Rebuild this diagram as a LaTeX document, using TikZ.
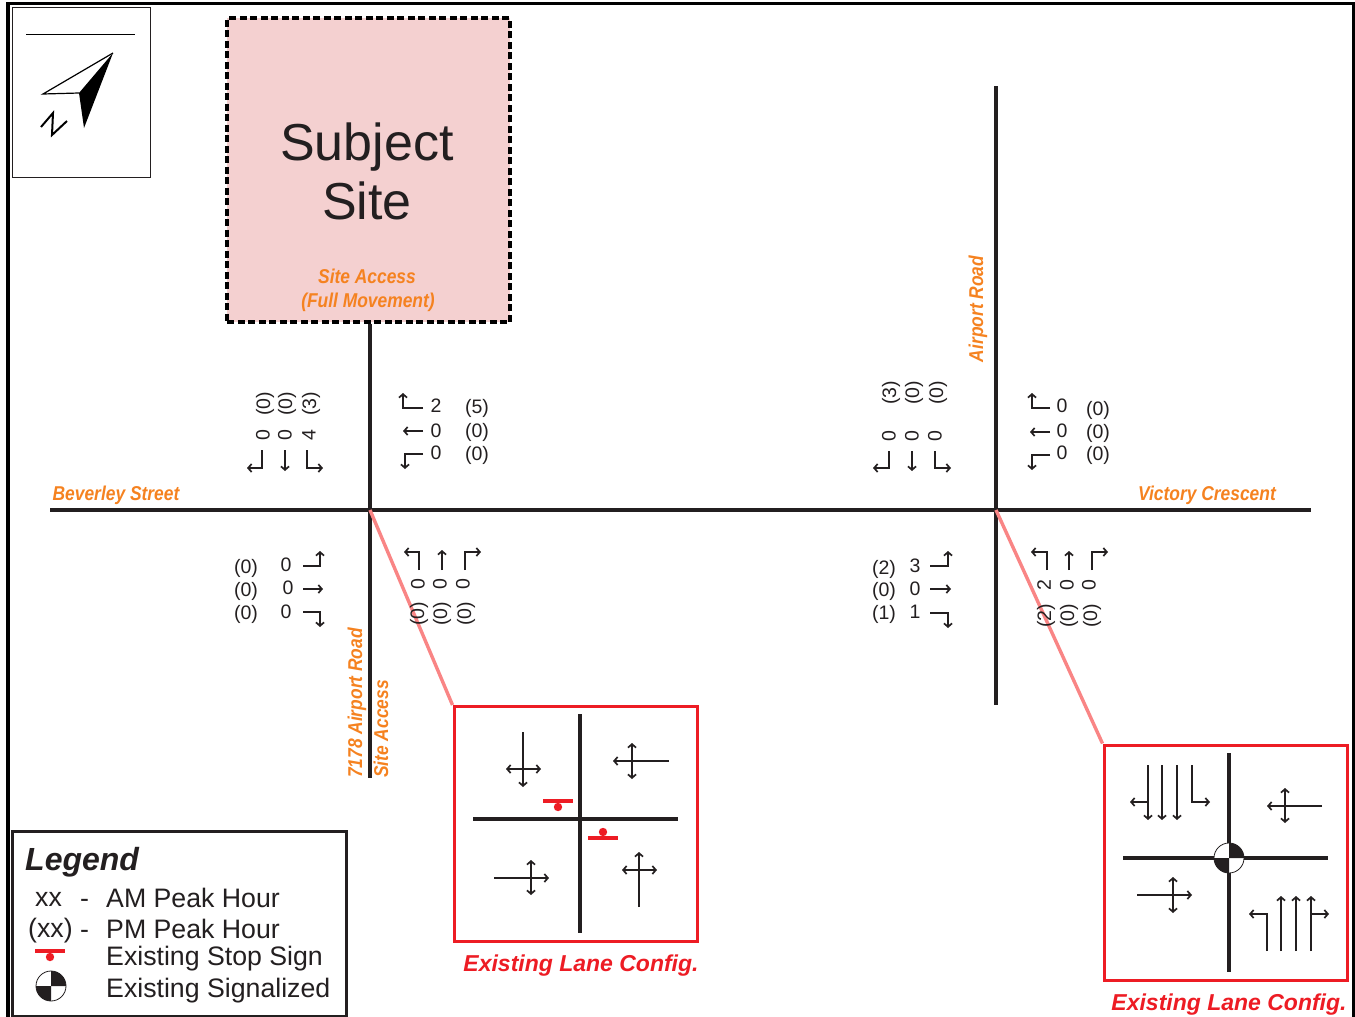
\documentclass[tikz,border=0pt]{standalone}
\usepackage{fontspec}
\setmainfont{Liberation Sans}
\newfontfamily\roadfont[FakeStretch=0.87]{Liberation Sans}
\usetikzlibrary{arrows.meta}
\definecolor{roadorange}{HTML}{F58220}
\definecolor{cfgred}{HTML}{ED1C24}
\definecolor{leaderpink}{HTML}{F98585}
\definecolor{sitepink}{HTML}{F4D0D0}
\definecolor{ink}{HTML}{231F20}
\tikzset{
  road/.style={draw=ink,line width=3.6pt},
  mv/.style={->,draw=ink,line width=1.1pt},
  dmv/.style={<->,draw=ink,line width=1.1pt},
  vol/.style={text=ink,font=\fontsize{19.5}{19.5}\selectfont,inner sep=0pt},
  volup/.style={vol,rotate=90},
  roadname/.style={text=roadorange,font=\roadfont\bfseries\itshape\fontsize{20}{20}\selectfont,inner sep=0pt},
  lanebox/.style={draw=cfgred,line width=3pt},
  lanename/.style={text=cfgred,font=\bfseries\itshape\fontsize{23}{23}\selectfont,inner sep=0pt},
  legtext/.style={text=ink,anchor=west,font=\fontsize{26.7}{26.7}\selectfont,inner sep=0pt},
  stopbar/.style={draw=cfgred,line width=3.5pt},
  leader/.style={draw=leaderpink,line width=3.4pt},
}
\newcommand{\signalmark}[2]{
  \fill[white] (#1) circle (#2);
  \fill[ink] (#1) -- ++(#2,0) arc (0:-90:#2) -- cycle;
  \fill[ink] (#1) -- ++(-#2,0) arc (180:90:#2) -- cycle;
  \draw[ink,line width=.8pt] (#1) circle (#2);
}
\begin{document}
\begin{tikzpicture}[x=1pt,y=-1pt,>={Straight Barb[length=3.5pt,width=8pt,line width=1.7pt]}]
\useasboundingbox (0,0) rectangle (1355,1017);
% frame
\draw[black,line width=4pt] (8,1017)--(8,3.5);
\draw[black,line width=3pt] (6,3.5)--(1353.5,3.5)--(1353.5,1017);
% north arrow
\node[draw=ink,line width=.8pt,minimum width=138pt,minimum height=170pt,inner sep=0pt] (northbox) at (81,92) {};
\coordinate (ntip) at (113,53);
\coordinate (nleft) at (43,94);
\coordinate (nmid) at (79,93);
\coordinate (nfoot) at (84,128);
\draw[black,line width=.9pt] (26,34.5)--(135,34.5);
\draw[black,line width=1.2pt] (ntip)--(nleft)--(nmid);
\fill[black] (ntip)--(nmid)--(nfoot)--cycle;
\draw[black,line width=2pt] (41,127)--(53,113)--(52,135)--(67,121);
% subject site
\node[draw=black,fill=sitepink,line width=3.6pt,dash pattern=on 7pt off 3.5pt,minimum width=283pt,minimum height=304pt,inner sep=0pt] (site) at (368.5,170) {};
\node[text=ink,font=\fontsize{52}{52}\selectfont,inner sep=0pt] (subjectlbl) at (367,147) {Subject};
\node[text=ink,font=\fontsize{52}{52}\selectfont,inner sep=0pt] (sitelbl) at (367,201) {Site};
\node[roadname] (accesslbl) at (367,276) {Site Access};
\node[roadname] (movelbl) at (368,302) {(Full Movement)};
% roads
\coordinate (westend) at (50,510);
\coordinate (eastend) at (1311,510);
\coordinate (intA) at (370,510);
\coordinate (intB) at (996,510);
\coordinate (southA) at (370,778);
\coordinate (northB) at (996,86);
\coordinate (southB) at (996,705);
\draw[road] (westend)--(eastend);
\draw[road] (site.south-|intA)--(southA);
\draw[road] (northB)--(southB);
% lane boxes
\node[lanebox,minimum width=243pt,minimum height=235pt,inner sep=0pt] (boxA) at (575.5,824) {};
\node[lanebox,minimum width=243pt,minimum height=235pt,inner sep=0pt] (boxB) at (1225.5,862.5) {};
\draw[leader] (intA)--(boxA.north west);
\draw[leader] (intB)--(boxB.north west);
% road names
\node[roadname] (beverley) at (116,495) {Beverley Street};
\node[roadname] (victory) at (1207,495) {Victory Crescent};
\node[roadname,rotate=90] (airport) at (978,309) {Airport Road};
\node[roadname,rotate=90] (airport7178) at (357,703) {7178 Airport Road};
\node[roadname,rotate=90] (siteaccess) at (381,729) {Site Access};
% volumes at site access
\draw[mv] (262,450)--(262,468)--(247,468);
\draw[mv] (285,450)--(285,471);
\draw[mv] (307,450)--(307,468)--(323,468);
\node[volup] at (263,435) {0};
\node[volup] at (285,435) {0};
\node[volup] at (309,435) {4};
\node[volup] at (265,404) {(0)};
\node[volup] at (287,404) {(0)};
\node[volup] at (311,404) {(3)};
\draw[mv] (423,408)--(403,408)--(403,393);
\draw[mv] (423,431)--(403,431);
\draw[mv] (423,454)--(405,454)--(405,469);
\node[vol] at (436,406) {2};
\node[vol] at (436,431) {0};
\node[vol] at (436,453) {0};
\node[vol] at (477,408) {(5)};
\node[vol] at (477,432) {(0)};
\node[vol] at (477,455) {(0)};
\draw[mv] (303,566)--(320,566)--(320,551);
\draw[mv] (303,589)--(323,589);
\draw[mv] (303,612)--(320,612)--(320,627);
\node[vol] at (286,565) {0};
\node[vol] at (288,588) {0};
\node[vol] at (286,612) {0};
\node[vol] at (246,568) {(0)};
\node[vol] at (246,591) {(0)};
\node[vol] at (246,614) {(0)};
\draw[mv] (419,570)--(419,552)--(404,552);
\draw[mv] (442,570)--(442,550);
\draw[mv] (465,570)--(465,552)--(481,552);
\node[volup] at (418,584) {0};
\node[volup] at (440,584) {0};
\node[volup] at (463,584) {0};
\node[volup] at (419,614) {(0)};
\node[volup] at (442,614) {(0)};
\node[volup] at (466,614) {(0)};
% volumes at victory crescent
\draw[mv] (889,451)--(889,468)--(873,468);
\draw[mv] (912,451)--(912,471);
\draw[mv] (935,451)--(935,468)--(951,468);
\node[volup] at (889,436) {0};
\node[volup] at (912,436) {0};
\node[volup] at (935,436) {0};
\node[volup] at (891,393) {(3)};
\node[volup] at (914,393) {(0)};
\node[volup] at (938,393) {(0)};
\draw[mv] (1050,408)--(1032,408)--(1032,393);
\draw[mv] (1050,432)--(1030,432);
\draw[mv] (1050,455)--(1032,455)--(1032,470);
\node[vol] at (1062,406) {0};
\node[vol] at (1062,431) {0};
\node[vol] at (1062,453) {0};
\node[vol] at (1098,410) {(0)};
\node[vol] at (1098,433) {(0)};
\node[vol] at (1098,455) {(0)};
\draw[mv] (930,566)--(948,566)--(948,551);
\draw[mv] (930,589)--(951,589);
\draw[mv] (930,613)--(948,613)--(948,628);
\node[vol] at (915,566) {3};
\node[vol] at (915,589) {0};
\node[vol] at (915,612) {1};
\node[vol] at (884,569) {(2)};
\node[vol] at (884,591) {(0)};
\node[vol] at (884,614) {(1)};
\draw[mv] (1047,570)--(1047,552)--(1031,552);
\draw[mv] (1069,570)--(1069,551);
\draw[mv] (1092,570)--(1092,552)--(1108,552);
\node[volup] at (1044,585) {2};
\node[volup] at (1067,585) {0};
\node[volup] at (1089,585) {0};
\node[volup] at (1046,616) {(2)};
\node[volup] at (1069,616) {(0)};
\node[volup] at (1092,616) {(0)};
% first lane config
\draw[road] (580,714)--(580,933);
\draw[road] (473,819)--(678,819);
\draw[mv] (523,732)--(523,787);
\draw[dmv] (506,769)--(541,769);
\draw[mv] (669,761)--(613,761);
\draw[dmv] (632,743)--(632,779);
\draw[mv] (494,878)--(549,878);
\draw[dmv] (531,860)--(531,895);
\draw[mv] (639,907)--(639,852);
\draw[dmv] (622,870)--(657,870);
\draw[stopbar] (543,801)--(573,801);
\fill[cfgred] (558,807) circle (4.2);
\draw[stopbar] (588,838)--(618,838);
\fill[cfgred] (603,832) circle (4.2);
\node[lanename] (cfgA) at (581,966) {Existing Lane Config.};
% second lane config
\draw[road] (1229,753)--(1229,972);
\draw[road] (1123,858)--(1328,858);
\signalmark{1229,858}{15}
\draw[mv] (1148,765)--(1148,820);
\draw[mv] (1148,802)--(1130,802);
\draw[mv] (1162,765)--(1162,820);
\draw[mv] (1177,765)--(1177,820);
\draw[mv] (1192,765)--(1192,802)--(1210,802);
\draw[mv] (1322,806)--(1267,806);
\draw[dmv] (1285,788)--(1285,823);
\draw[mv] (1137,895)--(1192,895);
\draw[dmv] (1173,877)--(1173,913);
\draw[mv] (1267,951)--(1267,914)--(1249,914);
\draw[mv] (1281,951)--(1281,896);
\draw[mv] (1296,951)--(1296,896);
\draw[mv] (1311,951)--(1311,896);
\draw[mv] (1311,914)--(1329,914);
\node[lanename] (cfgB) at (1229,1005) {Existing Lane Config.};
% legend
\node[draw=ink,fill=white,line width=3pt,minimum width=334pt,minimum height=185pt,inner sep=0pt] (legendbox) at (179,923.5) {};
\node[text=ink,anchor=west,font=\bfseries\itshape\fontsize{32}{32}\selectfont,inner sep=0pt] (legendlbl) at (25,862) {Legend};
\node[legtext] (xxam) at (35,899) {xx};
\node[legtext] at (80,903.5) {-};
\node[legtext] (ampeak) at (106,898) {AM Peak Hour};
\node[legtext] (xxpm) at (28,931) {(xx)};
\node[legtext] at (80,934.5) {-};
\node[legtext] (pmpeak) at (106,929) {PM Peak Hour};
\node[legtext] (stoplbl) at (106,959) {Existing Stop Sign};
\node[legtext] (siglbl) at (106,991) {Existing Signalized};
\draw[stopbar] (35,951)--(65,951);
\fill[cfgred] (50,957) circle (4.2);
\signalmark{51,986}{15}
\end{tikzpicture}
\end{document}
